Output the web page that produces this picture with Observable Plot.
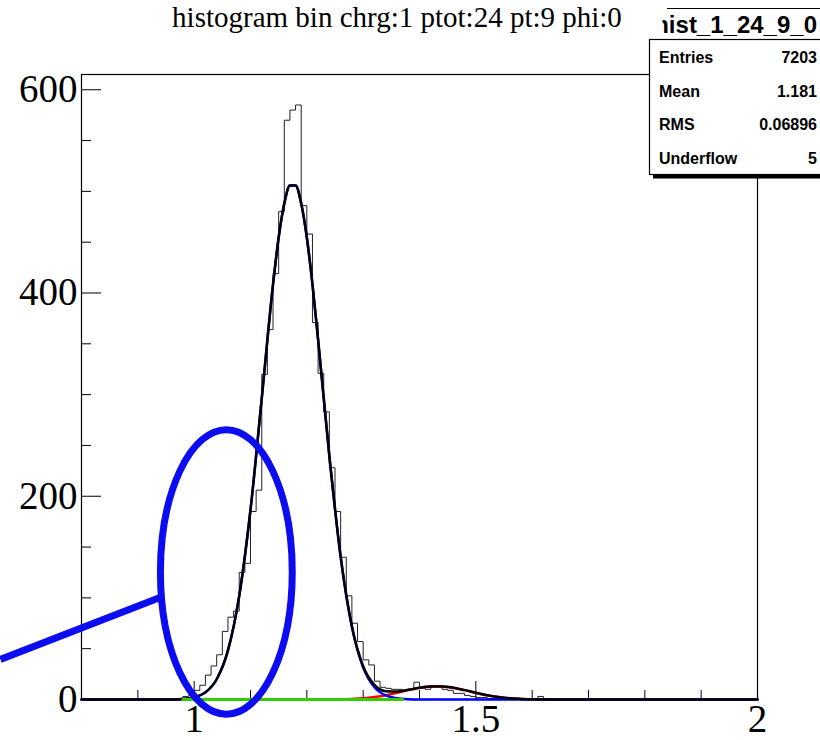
<!DOCTYPE html>
<html>
<head>
<meta charset="utf-8">
<script src="https://cdn.jsdelivr.net/npm/d3@7"></script>
<script src="https://cdn.jsdelivr.net/npm/@observablehq/plot@0.6"></script>
<style>
  body { margin: 0; background: #fff; }
  #chart { position: relative; width: 820px; height: 740px; }
</style>
</head>
<body>
<div id="chart"></div>
<script>
// Histogram: 0.01-wide bins starting at 0.95 (all other bins in [0.8, 2.0] are empty)
const binStart = 0.95;
const binWidth = 0.01;
const counts = [
  0, 0, 1, 3, 4, 9, 14, 24, 33, 44,          // 0.95 - 1.04
  67, 81, 87, 125, 134, 185, 206, 320, 364, 419, // 1.05 - 1.14
  480, 570, 580, 585, 486, 458, 371, 321, 283, 228, // 1.15 - 1.24
  185, 140, 102, 75, 57, 39, 34, 18, 12, 11,  // 1.25 - 1.34
  10, 10, 9, 10, 17, 11, 10, 13, 13, 10,      // 1.35 - 1.44
  9, 6, 6, 4, 3, 2, 2, 1, 1, 1,               // 1.45 - 1.54
  0, 1, 0, 0, 0, 0, 3, 0                      // 1.55 - 1.62
];

// Fitted functions, sampled along x
const fitX = [0.80, 0.90, 0.95, 0.98, 1.00, 1.02, 1.04, 1.06, 1.08, 1.10, 1.12, 1.14, 1.15, 1.16, 1.17, 1.18,
  1.19, 1.20, 1.21, 1.22, 1.24, 1.26, 1.28, 1.30, 1.32, 1.34, 1.36, 1.38, 1.40, 1.42, 1.44, 1.46,
  1.48, 1.50, 1.52, 1.54, 1.56, 1.58, 1.60, 1.65, 1.70, 2.00];
const fitTotal = [0, 0, 0.06, 0.6, 2.2, 7.0, 19.9, 48.3, 102, 186.7, 296.5, 408.5, 454.6, 488, 505.8, 505.8,
  488, 454.6, 408.5, 354, 239.6, 140.7, 72.0, 32.7, 14.4, 8.2, 7.75, 9.5, 11.6, 12.8, 12.8, 11.5,
  9.2, 6.6, 4.2, 2.4, 1.2, 0.6, 0.2, 0, 0, 0];
const fitPeak = [0, 0, 0.06, 0.6, 2.2, 7.0, 19.9, 48.3, 102, 186.7, 296.5, 408.5, 454.6, 488, 505.8, 505.8,
  488, 454.6, 408.5, 354, 239.5, 140.4, 71.4, 31.5, 12.0, 4.0, 1.15, 0.29, 0.06, 0, 0, 0,
  0, 0, 0, 0, 0, 0, 0, 0, 0, 0];
const bumpX = [0.80, 1.20, 1.25, 1.28, 1.30, 1.32, 1.34, 1.36, 1.38, 1.40, 1.42, 1.43, 1.44, 1.46, 1.48,
  1.50, 1.52, 1.54, 1.56, 1.58, 1.60, 1.65, 1.70, 2.00];
const fitBump = [0, 0, 0.14, 0.57, 1.24, 2.42, 4.2, 6.6, 9.2, 11.5, 12.8, 13, 12.8, 11.5, 9.2,
  6.6, 4.2, 2.4, 1.2, 0.6, 0.2, 0, 0, 0];
const flatX = [0.98, 1.37];
const fitFlat = [0, 0];

// Axis ticks
const xMajor = [1, 1.5, 2];
const xMinor = [0.9, 1.1, 1.2, 1.3, 1.4, 1.6, 1.7, 1.8, 1.9];
const yMajor = [0, 200, 400, 600];
const yMinor = [50, 100, 150, 250, 300, 350, 450, 500, 550];

const title = "histogram bin chrg:1 ptot:24 pt:9 phi:0";
const histName = "hist_1_24_9_0";
const statLabels = ["Entries", "Mean", "RMS", "Underflow"];
const statValues = ["7203", "1.181", "0.06896", "5"];

// Step outline of the histogram (value held from each lower edge)
const histPts = [{x: 0.8, y: 0}];
counts.forEach((c, i) => histPts.push({x: +(binStart + i * binWidth).toFixed(2), y: c}));
histPts.push({x: +(binStart + counts.length * binWidth).toFixed(2), y: 0});
histPts.push({x: 2.0, y: 0});

const pairs = (xs, ys) => xs.map((x, i) => ({x, y: ys[i]}));

const serif = "'Liberation Serif', 'Times New Roman', serif";
const sans = "'Liberation Sans', Arial, sans-serif";

const plot = Plot.plot({
  width: 820,
  height: 740,
  marginLeft: 81,
  marginRight: 63,
  marginTop: 74,
  marginBottom: 41,
  x: {domain: [0.8, 2.0]},
  y: {domain: [0, 615]},
  style: {background: "white", color: "black", overflow: "visible", fontFamily: serif},
  marks: [
    Plot.frame({stroke: "black", strokeWidth: 1.2}),
    Plot.axisY(yMinor, {tickSize: -10, fill: "none", label: null}),
    Plot.axisY(yMajor, {tickSize: -20, fill: "none", label: null}),
    Plot.axisY(yMajor, {tickSize: 0, tickPadding: 4, label: null, fontSize: 39, fontFamily: serif}),
    Plot.axisX(xMinor, {tickSize: -9, fill: "none", label: null}),
    Plot.axisX(xMajor, {tickSize: -18, fill: "none", label: null}),
    Plot.axisX(xMajor, {tickSize: 0, tickPadding: 5, label: null, tickFormat: d => String(d), fontSize: 39, fontFamily: serif}),
    Plot.line(histPts, {x: "x", y: "y", curve: "step-after", stroke: "#222", strokeWidth: 1}),
    Plot.line(pairs(bumpX, fitBump), {x: "x", y: "y", curve: "monotone-x", stroke: "#ff0000", strokeWidth: 2.5}),
    Plot.line(pairs(fitX, fitPeak), {x: "x", y: "y", curve: "monotone-x", stroke: "#0000ff", strokeWidth: 2.5}),
    Plot.line(pairs(fitX, fitTotal), {x: "x", y: "y", curve: "monotone-x", stroke: "#000", strokeWidth: 2.5}),
    Plot.line(pairs(flatX, fitFlat), {x: "x", y: "y", stroke: "#33cc00", strokeWidth: 3})
  ]
});

document.getElementById("chart").appendChild(plot);

const svg = d3.select(plot);
const xs = plot.scale("x");
const ys = plot.scale("y");

// Highlight around the low-mass shoulder, with a pointer line
const callout = {cx: 1.058, cy: 125, ax: 0.117, ay: 140};
const pointer = [{x: 0.657, y: 39}, {x: 0.946, y: 101}];
const blueMark = "#0c0cf0";
svg.append("line")
  .attr("x1", xs.apply(pointer[0].x)).attr("y1", ys.apply(pointer[0].y))
  .attr("x2", xs.apply(pointer[1].x)).attr("y2", ys.apply(pointer[1].y))
  .attr("stroke", blueMark).attr("stroke-width", 7);
svg.append("ellipse")
  .attr("cx", xs.apply(callout.cx)).attr("cy", ys.apply(callout.cy))
  .attr("rx", xs.apply(callout.cx + callout.ax) - xs.apply(callout.cx))
  .attr("ry", ys.apply(callout.cy) - ys.apply(callout.cy + callout.ay))
  .attr("fill", "none").attr("stroke", blueMark).attr("stroke-width", 7);

// Title
svg.append("text")
  .attr("x", 397).attr("y", 27)
  .attr("text-anchor", "middle")
  .style("font-family", serif).style("font-size", "29px")
  .attr("fill", "black")
  .text(title);

// Statistics box
const stats = svg.append("g").attr("text-anchor", "start");
stats.append("clipPath").attr("id", "name-clip")
  .append("rect").attr("x", 662.5).attr("y", 0).attr("width", 165).attr("height", 40);
stats.append("rect").attr("x", 667).attr("y", 8.5).attr("width", 160).attr("height", 31)
  .attr("fill", "white").attr("stroke", "none");
stats.append("line").attr("x1", 667).attr("x2", 820).attr("y1", 8.5).attr("y2", 8.5)
  .attr("stroke", "black").attr("stroke-width", 1);
stats.append("text")
  .attr("x", 817).attr("y", 33).attr("text-anchor", "end")
  .attr("clip-path", "url(#name-clip)")
  .style("font-family", sans).style("font-size", "24px").style("font-weight", "bold")
  .text(histName);
stats.append("rect").attr("x", 653).attr("y", 174).attr("width", 170).attr("height", 4.5).attr("fill", "black");
stats.append("rect").attr("x", 649.5).attr("y", 39.5).attr("width", 180).attr("height", 135)
  .attr("fill", "white").attr("stroke", "black").attr("stroke-width", 1.2);
statLabels.forEach((label, i) => {
  const y = 63 + i * 33.5;
  stats.append("text").attr("x", 659).attr("y", y).attr("text-anchor", "start")
    .style("font-family", sans).style("font-size", "16px").style("font-weight", "bold")
    .text(label);
  stats.append("text").attr("x", 817).attr("y", y).attr("text-anchor", "end")
    .style("font-family", sans).style("font-size", "16px").style("font-weight", "bold")
    .text(statValues[i]);
});
</script>
</body>
</html>
